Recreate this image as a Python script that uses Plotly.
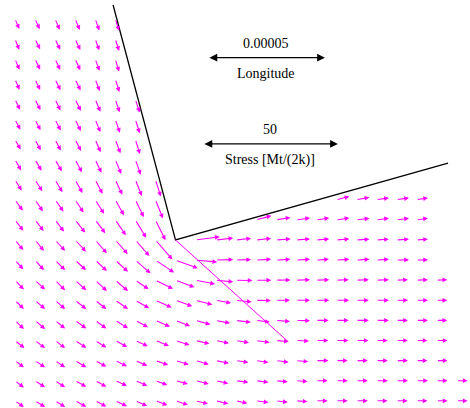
import plotly.graph_objects as go

_ = None  # no sample at this grid node

# Grid nodes (grid units, origin at the wedge corner)
X_COLS = [-8, -7, -6, -5, -4, -3, -2, -1, 0, 1, 2, 3, 4, 5, 6, 7, 8, 9, 10, 11, 12, 13, 14]
Y_ROWS = [11, 10, 9, 8, 7, 6, 5, 4, 3, 2, 1, 0, -1, -2, -3, -4, -5, -6, -7, -8]

# Stress vector components, Mt/(2k); one row per entry of Y_ROWS
SX = [
    [1.6, 1.7, 1.7, 1.7, 1.5, 1.4, *[_] * 17],
    [1.6, 1.9, 1.9, 1.9, 1.5, 1.4, *[_] * 17],
    [1.7, 1.9, 1.9, 1.9, 1.6, 1.4, *[_] * 17],
    [1.7, 1.9, 2.0, 2.0, 1.7, 1.5, *[_] * 17],
    [1.9, 2.0, 2.0, 2.1, 1.9, 1.6, 1.6, *[_] * 16],
    [2.0, 2.0, 2.1, 2.1, 1.9, 1.7, 1.6, *[_] * 16],
    [2.1, 2.1, 2.1, 2.2, 2.0, 1.9, 1.7, *[_] * 16],
    [2.3, 2.4, 2.5, 2.5, 2.3, 2.2, 2.0, *[_] * 16],
    [2.5, 2.7, 2.7, 2.7, 2.7, 2.6, 2.4, 2.0, *[_] * 15],
    [2.9, 2.9, 3.1, 3.1, 3.3, 3.2, 3.1, 2.8, *[_] * 8, 4.9, 4.9, 4.7, 4.7, 4.3, _, _],
    [3.1, 3.2, 3.3, 3.7, 3.7, 3.9, 4.0, 3.7, *[_] * 4, 5.8, 5.4, 5.2, 4.9, 4.9, 4.9, 4.7, 4.7, 4.3, _, _],
    [3.1, 3.3, 3.7, 4.0, 4.3, 4.6, 5.2, 6.3, _, 8.9, 6.5, 5.7, 5.7, 5.5, 5.2, 4.9, 4.9, 4.9, 4.7, 4.7, 4.3, _, _],
    [3.1, 3.3, 3.7, 4.0, 4.3, 4.7, 5.6, 6.9, 8.3, 8.0, 6.5, 5.7, 5.7, 5.4, 5.2, 4.8, 4.9, 4.9, 4.7, 4.7, 4.3, _, _],
    [3.3, 3.7, 3.7, 4.1, 4.3, 4.7, 4.9, 6.5, 7.0, 7.2, 6.5, 6.2, 5.7, 5.4, 5.2, 4.9, 4.7, 4.7, 4.7, 4.3, 4.3, 4.0, _],
    [3.3, 3.7, 3.7, 4.1, 4.1, 4.7, 5.1, 6.0, 6.2, 6.2, 5.7, 5.9, 5.6, 5.2, 5.2, 4.9, 4.8, 4.7, 4.7, 4.3, 4.3, 4.0, _],
    [3.3, 3.7, 3.7, 4.1, 4.1, 4.7, 4.7, 5.4, 5.4, 5.5, 5.3, 5.6, 5.2, 5.2, 5.2, 4.7, 4.7, 4.7, 4.7, 4.3, 4.3, 4.0, _],
    [3.5, 3.7, 3.7, 4.1, 4.1, 4.4, 4.6, 5.0, 5.2, 5.1, 4.9, 4.9, 5.1, 4.8, 4.8, 4.6, 4.6, 4.6, 4.3, 4.3, 4.1, 4.1, _],
    [3.3, 3.7, 3.7, 4.1, 4.1, 4.3, 4.4, 4.7, 4.9, 4.9, 4.9, 4.7, 4.7, 4.7, 4.6, 4.6, 4.3, 4.3, 4.3, 4.3, 4.1, 4.1, _],
    [3.3, 3.7, 3.7, 4.1, 4.1, 4.3, 4.4, 4.4, 4.6, 4.9, 4.7, 4.7, 4.7, 4.4, 4.3, 4.3, 4.3, 4.3, 4.3, 4.3, 4.3, 4.1, 4.1],
    [3.3, 3.7, 3.7, 4.1, 4.1, 4.3, 4.4, 4.4, 4.6, 4.6, 4.7, 4.3, 4.7, 4.4, 4.3, 4.3, 4.3, 4.3, 4.2, 4.2, 4.1, 4.1, 4.1],
]

SY = [
    [-3.7, -3.8, -4.0, -4.1, -4.3, -4.4, *[_] * 17],
    [-4.0, -3.8, -4.0, -4.1, -4.2, -4.4, *[_] * 17],
    [-3.9, -3.9, -4.0, -4.1, -4.3, -4.6, *[_] * 17],
    [-3.9, -4.0, -4.1, -4.2, -4.4, -4.7, *[_] * 17],
    [-3.9, -4.0, -4.1, -4.3, -4.6, -4.8, -4.9, *[_] * 16],
    [-3.8, -4.0, -4.1, -4.3, -4.7, -4.9, -5.1, *[_] * 16],
    [-3.7, -4.0, -4.1, -4.3, -4.7, -5.1, -5.4, *[_] * 16],
    [-4.0, -4.1, -4.3, -4.7, -4.9, -5.3, -5.6, *[_] * 16],
    [-4.0, -4.3, -4.6, -4.9, -5.2, -5.6, -6.0, -6.2, *[_] * 15],
    [-4.0, -4.2, -4.3, -4.7, -5.2, -5.7, -6.4, -6.9, *[_] * 8, 1.2, 0.9, 0.7, 0.7, 0.7, _, _],
    [-4.0, -4.1, -4.3, -4.7, -4.9, -5.7, -6.6, -7.5, *[_] * 4, 1.5, 0.9, 0.7, 0.7, 0.7, 0.6, 0.6, 0.6, 0.6, _, _],
    [-3.7, -4.0, -4.0, -4.3, -4.9, -5.2, -5.9, -7.2, _, 1.2, 0.7, 0.6, 0.6, 0.4, 0.4, 0.4, 0.4, 0.3, 0.3, 0.3, 0.3, _, _],
    [-3.4, -3.7, -3.7, -3.7, -4.0, -4.3, -4.9, -4.6, -3.0, -0.7, 0.2, 0.2, 0.3, 0.3, 0.3, 0.3, 0.3, 0.3, 0.3, 0.1, 0.1, _, _],
    [-3.4, -3.4, -3.7, -3.7, -4.0, -4.0, -3.3, -3.2, -2.6, -1.4, -0.6, -0.1, 0.0, 0.1, 0.2, 0.2, 0.2, 0.2, 0.2, 0.2, 0.2, 0.2, _],
    [-3.2, -3.2, -3.2, -3.2, -3.2, -3.2, -2.9, -2.7, -2.2, -1.6, -1.0, -0.6, -0.1, 0.0, 0.0, 0.0, 0.0, 0.0, 0.0, 0.0, 0.0, 0.0, _],
    [-3.2, -3.2, -3.0, -3.0, -3.0, -2.9, -2.5, -2.3, -2.1, -1.5, -1.0, -0.7, -0.6, -0.4, -0.1, 0.0, 0.0, 0.0, 0.0, 0.0, 0.0, 0.0, _],
    [-2.8, -2.8, -2.8, -2.7, -2.6, -2.4, -2.1, -2.0, -1.7, -1.2, -1.0, -0.8, -0.7, -0.4, -0.2, 0.0, 0.0, 0.0, 0.0, 0.0, 0.0, 0.0, _],
    [-2.5, -2.5, -2.5, -2.5, -2.2, -2.1, -1.9, -1.6, -1.5, -1.4, -1.0, -0.7, -0.7, -0.6, -0.4, 0.0, 0.0, 0.0, 0.0, 0.0, 0.0, 0.0, _],
    [-2.5, -2.4, -2.4, -2.2, -2.2, -1.9, -1.9, -1.6, -1.2, -1.2, -1.0, -0.6, -0.6, -0.4, -0.3, 0.0, 0.0, 0.0, 0.0, 0.0, 0.0, 0.0, 0.0],
    [-2.3, -2.3, -2.3, -2.2, -2.1, -2.0, -1.9, -1.6, -1.5, -1.1, -1.1, -0.9, -0.6, -0.5, -0.3, 0.0, 0.0, 0.0, 0.0, 0.0, 0.0, 0.0, 0.0],
]

# Wedge boundary and slip line (grid units)
WEDGE_X = [-3.11, 0.0, 13.58]
WEDGE_Y = [11.69, 0.0, 3.83]
SLIP_X = [0.0, 5.6]
SLIP_Y = [0.0, -5.05]

# Scale-bar values
STRESS_REF = 50
LONGITUDE_REF = 0.00005

# Plot scales: grid units per unit of each quantity
STRESS_SCALE = 0.1345
LONGITUDE_SCALE = 5.83 / LONGITUDE_REF

MAGENTA = "#ff00ff"
SERIF = "Liberation Serif, Times New Roman, serif"

fig = go.Figure()

fig.add_trace(go.Scatter(x=WEDGE_X, y=WEDGE_Y, mode="lines",
                         line=dict(color="black", width=1.3),
                         hoverinfo="skip", showlegend=False))
fig.add_trace(go.Scatter(x=SLIP_X, y=SLIP_Y, mode="lines",
                         line=dict(color=MAGENTA, width=1),
                         hoverinfo="skip", showlegend=False))

annotations = []
for j, y0 in enumerate(Y_ROWS):
    for i, x0 in enumerate(X_COLS):
        sx = SX[j][i]
        if sx is None:
            continue
        sy = SY[j][i]
        annotations.append(dict(
            x=x0 + sx * STRESS_SCALE, y=y0 + sy * STRESS_SCALE,
            ax=x0, ay=y0, xref="x", yref="y", axref="x", ayref="y",
            text="", showarrow=True, arrowhead=2, arrowsize=0.85,
            arrowwidth=1.1, arrowcolor=MAGENTA, standoff=0, startstandoff=0,
        ))

# Scale bars with their labels
def scale_bar(xc, yc, length, value_text, name_text):
    annotations.append(dict(
        x=xc + length / 2, y=yc, ax=xc - length / 2, ay=yc,
        xref="x", yref="y", axref="x", ayref="y", text="",
        showarrow=True, arrowhead=2, arrowside="end+start", arrowsize=1.3,
        arrowwidth=1.2, arrowcolor="black", standoff=0, startstandoff=0,
    ))
    annotations.append(dict(x=xc, y=yc + 0.72, xref="x", yref="y",
                            text=value_text, showarrow=False,
                            font=dict(family=SERIF, size=14, color="black")))
    annotations.append(dict(x=xc, y=yc - 0.8, xref="x", yref="y",
                            text=name_text, showarrow=False,
                            font=dict(family=SERIF, size=14, color="black")))

scale_bar(4.53, 9.07, LONGITUDE_REF * LONGITUDE_SCALE, "0.00005", "Longitude")
scale_bar(4.73, 4.78, STRESS_REF * STRESS_SCALE, "50", "Stress [Mt/(2k)]")

fig.update_layout(
    width=470, height=408,
    margin=dict(l=0, r=0, t=0, b=0),
    paper_bgcolor="white", plot_bgcolor="white",
    annotations=annotations,
    xaxis=dict(range=[-8.745, 14.674], visible=False, fixedrange=True),
    yaxis=dict(range=[-8.358, 11.94], visible=False, fixedrange=True),
    showlegend=False,
)

fig.write_html("out.html")
